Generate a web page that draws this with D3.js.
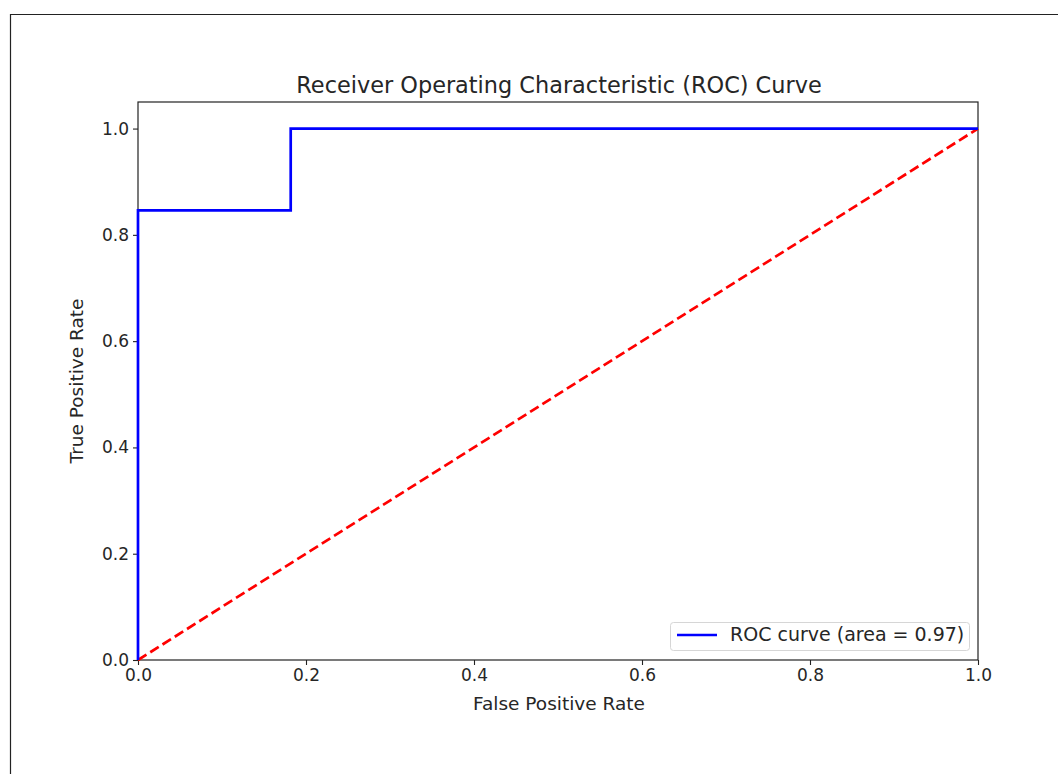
<!DOCTYPE html>
<html>
<head>
<meta charset="utf-8">
<script src="https://cdn.jsdelivr.net/npm/d3@7"></script>
<style>
  html, body { margin: 0; padding: 0; background: #fff; }
  svg { display: block; font-family: "DejaVu Sans", sans-serif; }
</style>
</head>
<body>
<svg id="chart" width="1058" height="774"></svg>
<script>
// ROC curve points (false positive rate, true positive rate)
const fpr = [0, 0, 0.1818, 0.1818, 1];
const tpr = [0, 0.8462, 0.8462, 1, 1];
// chance diagonal
const chanceX = [0, 1];
const chanceY = [0, 1];
const xTicks = [0, 0.2, 0.4, 0.6, 0.8, 1.0];
const yTicks = [0, 0.2, 0.4, 0.6, 0.8, 1.0];
const rocAuc = 0.97;

const svg = d3.select("#chart");

// outer frame
svg.append("path")
  .attr("d", "M10.5,774 L10.5,14.5 L1058,14.5")
  .attr("fill", "none").attr("stroke", "#222").attr("stroke-width", 1.2);

const plotL = 138, plotR = 978, plotT = 102, plotB = 660;
const x = d3.scaleLinear().domain([0, 1]).range([plotL, plotR]);
const y = d3.scaleLinear().domain([0, 1.05]).range([plotB, plotT]);

const textColor = "#262626";

// axes
const xAxis = svg.append("g").attr("transform", `translate(0,${plotB})`)
  .call(d3.axisBottom(x).tickValues(xTicks).tickFormat(d3.format(".1f")).tickSize(5).tickPadding(4));
const yAxis = svg.append("g").attr("transform", `translate(${plotL},0)`)
  .call(d3.axisLeft(y).tickValues(yTicks).tickFormat(d3.format(".1f")).tickSize(5).tickPadding(4));
[xAxis, yAxis].forEach(g => {
  g.select(".domain").remove();
  g.selectAll(".tick line").attr("stroke", "#222").attr("stroke-width", 1.1);
  g.selectAll(".tick text").attr("fill", textColor)
    .style("font-size", "17px").style("font-family", "DejaVu Sans");
});

// plot frame
svg.append("rect")
  .attr("x", plotL).attr("y", plotT)
  .attr("width", plotR - plotL).attr("height", plotB - plotT)
  .attr("fill", "none").attr("stroke", "#222").attr("stroke-width", 1.2);

const line = d3.line().x(d => x(d[0])).y(d => y(d[1]));

// chance line
svg.append("path")
  .datum(chanceX.map((v, i) => [v, chanceY[i]]))
  .attr("d", line)
  .attr("fill", "none").attr("stroke", "#ff0000")
  .attr("stroke-width", 2.7).attr("stroke-dasharray", "10,4.5");

// ROC curve
svg.append("path")
  .datum(fpr.map((v, i) => [v, tpr[i]]))
  .attr("d", line)
  .attr("fill", "none").attr("stroke", "#0000ff")
  .attr("stroke-width", 2.7).attr("stroke-linejoin", "miter");

// title
svg.append("text")
  .attr("x", (plotL + plotR) / 2 + 1).attr("y", 93)
  .attr("text-anchor", "middle").attr("fill", textColor)
  .style("font-size", "22.4px")
  .text("Receiver Operating Characteristic (ROC) Curve");

// axis labels
svg.append("text")
  .attr("x", (plotL + plotR) / 2 + 1).attr("y", 710)
  .attr("text-anchor", "middle").attr("fill", textColor)
  .style("font-size", "18.5px")
  .text("False Positive Rate");
svg.append("text")
  .attr("transform", `translate(83,${(plotT + plotB) / 2}) rotate(-90)`)
  .attr("text-anchor", "middle").attr("fill", textColor)
  .style("font-size", "18.5px")
  .text("True Positive Rate");

// legend
const lg = svg.append("g");
lg.append("rect")
  .attr("x", 670.5).attr("y", 622.5).attr("width", 299).attr("height", 28)
  .attr("rx", 3).attr("fill", "#fff").attr("fill-opacity", 0.8)
  .attr("stroke", "#d6d6d6").attr("stroke-width", 1);
lg.append("line")
  .attr("x1", 677).attr("x2", 717).attr("y1", 635).attr("y2", 635)
  .attr("stroke", "#0000ff").attr("stroke-width", 2.7);
lg.append("text")
  .attr("x", 730).attr("y", 641).attr("fill", textColor)
  .style("font-size", "19px")
  .text(`ROC curve (area = ${rocAuc.toFixed(2)})`);
</script>
</body>
</html>
